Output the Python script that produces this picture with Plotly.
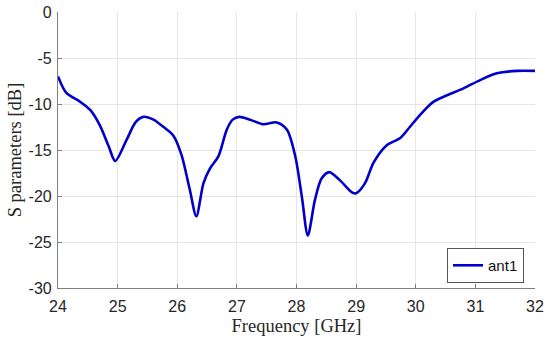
import plotly.graph_objects as go

freq = [24.0, 24.14, 24.37, 24.54, 24.7, 24.85, 24.96, 25.15, 25.3, 25.43, 25.6, 25.77, 25.93,
        26.07, 26.21, 26.32, 26.44, 26.55, 26.69, 26.83, 26.93, 27.04, 27.22, 27.44, 27.67,
        27.84, 27.98, 28.09, 28.19, 28.31, 28.42, 28.55, 28.73, 28.93, 29.0, 29.15, 29.29,
        29.51, 29.74, 29.9, 30.1, 30.3, 30.8, 31.08, 31.36, 31.7, 32.0]
s11 = [-7.0, -8.8, -9.75, -10.65, -12.3, -14.6, -16.2, -13.9, -12.0, -11.4, -11.7, -12.5, -13.4,
       -15.5, -19.3, -22.2, -18.6, -17.0, -15.7, -12.8, -11.7, -11.4, -11.7, -12.2, -12.0,
       -12.8, -15.7, -20.1, -24.3, -20.4, -18.1, -17.4, -18.3, -19.6, -19.7, -18.6, -16.4,
       -14.5, -13.7, -12.5, -11.0, -9.75, -8.3, -7.4, -6.67, -6.4, -6.4]

x_ticks = [24, 25, 26, 27, 28, 29, 30, 31, 32]
x_labels = ["24", "25", "26", "27", "28", "29", "30", "31", "32"]
y_ticks = [0, -5, -10, -15, -20, -25, -30]
y_labels = ["0", "-5", "-10", "-15", "-20", "-25", "-30"]

fig = go.Figure()
fig.add_trace(go.Scatter(x=freq, y=s11, mode="lines", name="ant1",
                         line=dict(color="#0000c8", width=2.6, shape="spline", smoothing=0.8)))

axis_common = dict(showgrid=True, gridcolor="#e6e6e6", gridwidth=1, zeroline=False,
                   showline=True, linecolor="#808080", linewidth=1.2,
                   ticks="inside", ticklen=4, tickcolor="#808080",
                   tickfont=dict(family="Liberation Sans, Arial", size=16, color="#262626"),
                   mirror=False, automargin=False)
title_font = dict(family="Liberation Serif, Times New Roman", size=18.5, color="#262626")

fig.update_layout(
    width=550, height=343,
    margin=dict(l=58, r=15, t=12, b=55),
    paper_bgcolor="white", plot_bgcolor="white",
    xaxis=dict(range=[24, 32], tickvals=x_ticks, ticktext=x_labels, ticklabelstandoff=4,
               **axis_common,
               title=dict(text="Frequency [GHz]", standoff=4, font=title_font)),
    yaxis=dict(range=[-30, 0], tickvals=y_ticks, ticktext=y_labels, ticklabelstandoff=2,
               **axis_common,
               title=dict(text="S parameters [dB]", standoff=2, font=title_font)),
    showlegend=True,
    legend=dict(x=0.977, y=0.018, xanchor="right", yanchor="bottom",
                bgcolor="white", bordercolor="#555555", borderwidth=1,
                font=dict(family="Liberation Sans, Arial", size=15, color="#111111"),
                tracegroupgap=0, itemwidth=30),
)

fig.write_html("out.html", config={"displayModeBar": False},
               post_script="document.body.style.margin='0';document.body.style.padding='0';")
